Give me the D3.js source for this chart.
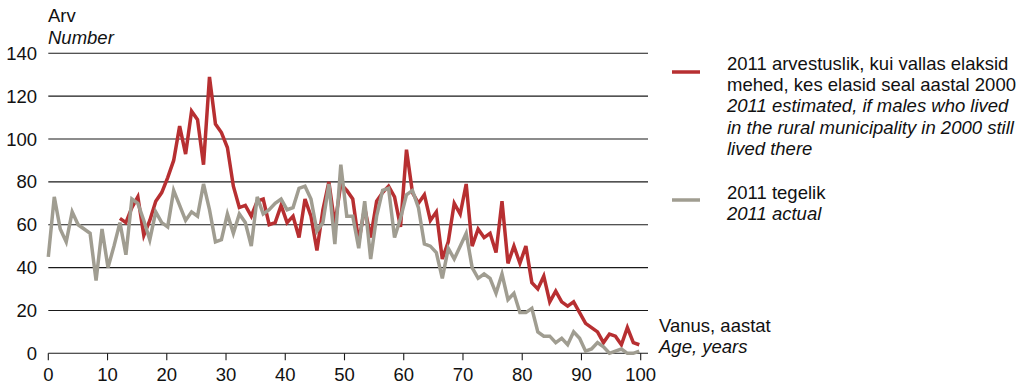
<!DOCTYPE html>
<html>
<head>
<meta charset="utf-8">
<script src="https://cdn.jsdelivr.net/npm/d3@7"></script>
<style>
  body { margin: 0; background: #fff; }
  svg { display: block; font-family: "Liberation Sans", Arial, sans-serif; }
</style>
</head>
<body>
<div id="chart"></div>
<script>
// vanus 0..99
var ages = d3.range(0, 100);

// 2011 tegelik (actual)
var actual = [45, 73, 58, 52, 66, 60, 58, 56, 34, 58,
              40, 50, 61, 46, 72, 70, 62, 53, 66, 61,
              59, 76, 69, 62, 66, 64, 79, 67, 52, 53,
              65, 56, 65, 61, 50, 73, 65, 67, 70, 72,
              67, 68, 77, 78, 72, 57, 61, 79, 51, 88,
              64, 64, 49, 71, 44, 64, 76, 77, 54, 63,
              74, 76, 68, 51, 50, 47, 35, 49, 44, 50,
              56, 40, 35, 37, 35, 28, 37, 25, 28, 19,
              19, 21, 10, 8, 8, 5, 7, 4, 10, 7,
              1, 2, 5, 3, 0, 1, 2, 0, 0, 1];

// 2011 arvestuslik (estimated), algab vanusest 12
var estStart = 12;
var estimated = [63, 61, 68, 73, 55, 62, 71, 75,
                 82, 90, 106, 93, 113, 109, 88, 129, 107, 103,
                 96, 78, 68, 69, 64, 71, 72, 60, 61, 69,
                 61, 64, 54, 72, 64, 48, 67, 80, 60, 79,
                 76, 72, 52, 68, 54, 71, 75, 78, 73, 59,
                 95, 75, 70, 74, 62, 66, 44, 52, 70, 65,
                 79, 50, 58, 54, 56, 47, 71, 42, 50, 42,
                 50, 33, 30, 36, 24, 29, 24, 22, 24, 19,
                 14, 12, 10, 5, 9, 8, 4, 12, 5, 4];

var yTicks = [0, 20, 40, 60, 80, 100, 120, 140];
var xTicks = [0, 10, 20, 30, 40, 50, 60, 70, 80, 90, 100];

var legendRed = ["2011 arvestuslik, kui vallas elaksid",
                 "mehed, kes elasid seal aastal 2000"];
var legendRedEn = ["2011 estimated, if males who lived",
                   "in the rural municipality in 2000 still",
                   "lived there"];
var legendGray = ["2011 tegelik"];
var legendGrayEn = ["2011 actual"];

var width = 1027;
var height = 385;
var red = "#b72f31";
var gray = "#a09d91";

var svg = d3.select("#chart")
            .append("svg")
            .attr("width", width)
            .attr("height", height)
            .style("font-size", "18.5px");

var y = d3.scaleLinear().domain([0, 140]).range([353.3, 53.3]);
// telje skaala ja andmete skaala (punktid 0..99)
var xAxis = d3.scaleLinear().domain([0, 100]).range([48.3, 640.7]);
var x = d3.scaleLinear().domain([0, 99]).range([48.3, 639.3]);
var gridRight = 648;

// ruudustik
svg.append("g")
   .selectAll("line")
   .data(yTicks)
   .enter()
   .append("line")
   .attr("x1", xAxis(0))
   .attr("x2", gridRight)
   .attr("y1", function(d) { return y(d); })
   .attr("y2", function(d) { return y(d); })
   .attr("stroke", "#1a1a1a")
   .attr("stroke-width", 1.1);

// y sildid
svg.append("g")
   .selectAll("text")
   .data(yTicks)
   .enter()
   .append("text")
   .attr("x", 37)
   .attr("y", function(d) { return y(d) + 6.6; })
   .attr("text-anchor", "end")
   .attr("fill", "#111")
   .text(function(d) { return d; });

// x telje kriipsud ja sildid
var xg = svg.append("g");
xg.selectAll("line")
  .data(xTicks)
  .enter()
  .append("line")
  .attr("x1", function(d) { return xAxis(d); })
  .attr("x2", function(d) { return xAxis(d); })
  .attr("y1", y(0))
  .attr("y2", y(0) + 7)
  .attr("stroke", "#1a1a1a")
  .attr("stroke-width", 1.1);

xg.selectAll("text")
  .data(xTicks)
  .enter()
  .append("text")
  .attr("x", function(d) { return xAxis(d); })
  .attr("y", 380.5)
  .attr("text-anchor", "middle")
  .attr("fill", "#111")
  .text(function(d) { return d; });

// jooned
var line = d3.line()
             .x(function(d) { return x(d[0]); })
             .y(function(d) { return y(d[1]); });

var estData = estimated.map(function(v, i) { return [ages[i + estStart], v]; });
var actData = actual.map(function(v, i) { return [ages[i], v]; });

svg.append("path")
   .attr("d", line(estData))
   .attr("fill", "none")
   .attr("stroke", red)
   .attr("stroke-width", 3.5);

svg.append("path")
   .attr("d", line(actData))
   .attr("fill", "none")
   .attr("stroke", gray)
   .attr("stroke-width", 3.5);

// telgede pealkirjad
svg.append("text").attr("x", 48).attr("y", 22).attr("fill", "#111").text("Arv");
svg.append("text").attr("x", 48).attr("y", 43.5).attr("fill", "#111")
   .style("font-style", "italic").text("Number");
svg.append("text").attr("x", 659).attr("y", 332).attr("fill", "#111").text("Vanus, aastat");
svg.append("text").attr("x", 659).attr("y", 353).attr("fill", "#111")
   .style("font-style", "italic").text("Age, years");

// legend
function legendBlock(lineY, color, normal, italic, top) {
    svg.append("line")
       .attr("x1", 672).attr("x2", 700)
       .attr("y1", lineY).attr("y2", lineY)
       .attr("stroke", color)
       .attr("stroke-width", 3.5);
    var rows = normal.map(function(t) { return { t: t, it: false }; })
                     .concat(italic.map(function(t) { return { t: t, it: true }; }));
    svg.append("g")
       .selectAll("text")
       .data(rows)
       .enter()
       .append("text")
       .attr("x", 727)
       .attr("y", function(d, i) { return top + i * 21.4; })
       .attr("fill", "#111")
       .style("font-style", function(d) { return d.it ? "italic" : "normal"; })
       .text(function(d) { return d.t; });
}

legendBlock(72, red, legendRed, legendRedEn, 69.5);
legendBlock(200, gray, legendGray, legendGrayEn, 198.5);
</script>
</body>
</html>
